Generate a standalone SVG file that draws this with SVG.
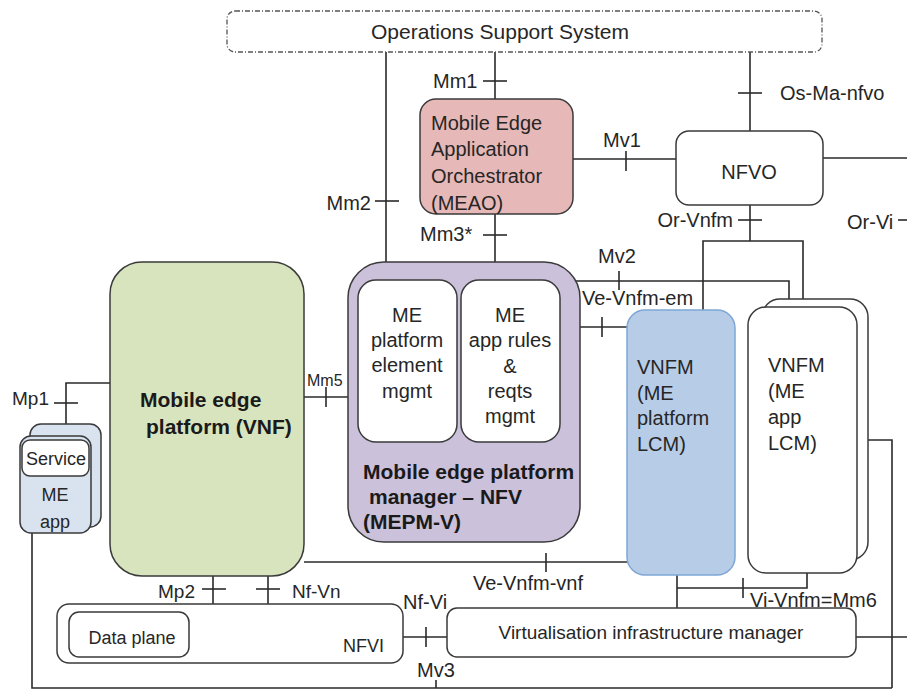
<svg xmlns="http://www.w3.org/2000/svg" width="907" height="690" viewBox="0 0 907 690">
  <style>
    text { font-family: "Liberation Sans", Arial, sans-serif; fill: #262626; font-size: 20px; }
    .lbl { font-size: 20px; }
    .small { font-size: 18px; }
    .bold { font-weight: bold; font-size: 21px; fill: #1a1a1a; }
    .mid { text-anchor: middle; }
    .end { text-anchor: end; }
    .box { stroke: #3a3a3a; stroke-width: 1.5; }
    .plain { fill: #ffffff; }
    .conn line, .conn polyline { stroke: #2a2a2a; stroke-width: 1.6; fill: none; }
  </style>

  <!-- interfaces and reference points -->
  <g id="connectors" class="conn">
    <!-- Mm2: OSS to MEPM -->
    <line x1="386" y1="52" x2="386" y2="266"/>
    <line x1="375" y1="201" x2="399" y2="201"/>
    <!-- Mm1: OSS to MEAO -->
    <line x1="495" y1="52" x2="495" y2="100"/>
    <line x1="483" y1="81" x2="507" y2="81"/>
    <!-- Mm3*: MEAO to MEPM -->
    <line x1="495" y1="213" x2="495" y2="266"/>
    <line x1="483" y1="235" x2="507" y2="235"/>
    <!-- Mv1: MEAO to NFVO -->
    <line x1="572" y1="159" x2="676" y2="159"/>
    <line x1="626" y1="151" x2="626" y2="171"/>
    <!-- Os-Ma-nfvo -->
    <line x1="750" y1="52" x2="750" y2="131"/>
    <line x1="738" y1="93" x2="762" y2="93"/>
    <!-- NFVO east -->
    <line x1="823" y1="158" x2="907" y2="158"/>
    <!-- Or-Vi stub -->
    <line x1="898" y1="220" x2="907" y2="220"/>
    <!-- Or-Vnfm: NFVO to both VNFMs -->
    <line x1="750" y1="205" x2="750" y2="241"/>
    <line x1="738" y1="220" x2="762" y2="220"/>
    <polyline points="703,311 703,241 803,241 803,307"/>
    <!-- Mv2: MEPM to VNFM (app) -->
    <polyline points="570,281 789,281 789,304"/>
    <line x1="619" y1="271" x2="619" y2="290"/>
    <!-- Ve-Vnfm-em -->
    <line x1="576" y1="327" x2="628" y2="327"/>
    <line x1="602" y1="317" x2="602" y2="337"/>
    <!-- Mm5 -->
    <line x1="304" y1="397" x2="350" y2="397"/>
    <line x1="326" y1="387" x2="326" y2="407"/>
    <!-- Ve-Vnfm-vnf -->
    <line x1="304" y1="562" x2="628" y2="562"/>
    <line x1="546" y1="553" x2="546" y2="572"/>
    <!-- Mp1 -->
    <polyline points="110,383 66,383 66,425"/>
    <line x1="54" y1="403" x2="78" y2="403"/>
    <!-- Mp2 -->
    <polyline points="189,638 213,638 213,576"/>
    <line x1="202" y1="589" x2="226" y2="589"/>
    <!-- Nf-Vn -->
    <line x1="268" y1="576" x2="268" y2="604"/>
    <line x1="256" y1="589" x2="280" y2="589"/>
    <!-- Nf-Vi -->
    <line x1="403" y1="637" x2="447" y2="637"/>
    <line x1="426" y1="627" x2="426" y2="647"/>
    <!-- Vi-Vnfm=Mm6 -->
    <line x1="677" y1="575" x2="677" y2="608"/>
    <polyline points="677,588 807,588 807,572"/>
    <line x1="743" y1="578" x2="743" y2="598"/>
    <!-- VNFM (app) east and VIM east -->
    <polyline points="868,440 892,440 892,688"/>
    <line x1="856" y1="637" x2="907" y2="637"/>
    <!-- bottom bus and Mv3 -->
    <polyline points="32,532 32,688 892,688"/>
    <line x1="436" y1="680" x2="436" y2="688"/>
  </g>

  <!-- reference point labels -->
  <g id="labels">
    <text x="433" y="88">Mm1</text>
    <text class="end" x="371" y="210">Mm2</text>
    <text x="420" y="241">Mm3*</text>
    <text x="603" y="147">Mv1</text>
    <text x="780" y="100">Os-Ma-nfvo</text>
    <text class="end" x="733" y="227">Or-Vnfm</text>
    <text x="847" y="229">Or-Vi</text>
    <text x="598" y="263">Mv2</text>
    <text x="582" y="305">Ve-Vnfm-em</text>
    <text x="307" y="386" style="font-size:16px">Mm5</text>
    <text x="12" y="405" style="font-size:19px">Mp1</text>
    <text x="473" y="590">Ve-Vnfm-vnf</text>
    <text x="158" y="598" style="font-size:19px">Mp2</text>
    <text x="292" y="598" style="font-size:19px">Nf-Vn</text>
    <text x="403" y="609">Nf-Vi</text>
    <text x="417" y="677">Mv3</text>
    <text x="750" y="607">Vi-Vnfm=Mm6</text>
  </g>

  <g id="oss">
    <rect x="227" y="11" width="595" height="41" rx="8" fill="#ffffff" stroke="#555" stroke-width="1.3" stroke-dasharray="5 2 1 2"/>
    <text class="mid" x="500" y="39" style="font-size:21px">Operations Support System</text>
  </g>

  <g id="meao">
    <rect class="box" x="420" y="99" width="153" height="115" rx="16" fill="#e6b8b7"/>
    <text x="431" y="130">Mobile Edge</text>
    <text x="431" y="156">Application</text>
    <text x="431" y="183">Orchestrator</text>
    <text x="431" y="210">(MEAO)</text>
  </g>

  <g id="nfvo">
    <rect class="box plain" x="676" y="131" width="147" height="74" rx="13"/>
    <text class="mid" x="749" y="179">NFVO</text>
  </g>

  <g id="me-app">
    <rect class="box" x="30" y="424" width="71" height="103" rx="11" fill="#d9e3f0" stroke-width="1.3"/>
    <rect class="box" x="20" y="436" width="71" height="97" rx="11" fill="#d9e3f0" stroke-width="1.3"/>
    <rect class="box plain" x="22" y="440" width="67" height="36" rx="8" stroke-width="1.3"/>
    <text class="mid" x="56" y="465" style="font-size:18px">Service</text>
    <text class="mid" x="55" y="501" style="font-size:18px">ME</text>
    <text class="mid" x="55" y="528" style="font-size:18px">app</text>
  </g>

  <g id="mep">
    <rect class="box" x="110" y="262" width="194" height="314" rx="32" fill="#d7e4bd"/>
    <text class="bold" x="140" y="407">Mobile edge</text>
    <text class="bold" x="146" y="434">platform (VNF)</text>
  </g>

  <g id="mepm-v">
    <rect class="box" x="348" y="262" width="232" height="280" rx="36" fill="#cbc1da"/>
    <rect class="box plain" x="358" y="280" width="99" height="162" rx="18"/>
    <rect class="box plain" x="461" y="280" width="99" height="162" rx="18"/>
    <text class="mid" x="407" y="322">ME</text>
    <text class="mid" x="407" y="347">platform</text>
    <text class="mid" x="407" y="372">element</text>
    <text class="mid" x="407" y="398">mgmt</text>
    <text class="mid" x="510" y="322">ME</text>
    <text class="mid" x="510" y="347">app rules</text>
    <text class="mid" x="510" y="373">&amp;</text>
    <text class="mid" x="510" y="398">reqts</text>
    <text class="mid" x="510" y="423">mgmt</text>
    <text class="bold" x="363" y="479">Mobile edge platform</text>
    <text class="bold" x="369" y="504">manager – NFV</text>
    <text class="bold" x="363" y="529">(MEPM-V)</text>
  </g>

  <g id="vnfm-platform">
    <rect x="627" y="310" width="108" height="265" rx="18" fill="#b7cce6" stroke="#7ea6d6" stroke-width="1.5"/>
    <text x="637" y="374">VNFM</text>
    <text x="637" y="400">(ME</text>
    <text x="637" y="425">platform</text>
    <text x="637" y="451">LCM)</text>
  </g>

  <g id="vnfm-app">
    <rect class="box plain" x="762" y="299" width="106" height="261" rx="18" stroke-width="1.3"/>
    <rect class="box plain" x="748" y="307" width="109" height="266" rx="18" stroke-width="1.3"/>
    <text x="768" y="372">VNFM</text>
    <text x="768" y="398">(ME</text>
    <text x="768" y="424">app</text>
    <text x="768" y="450">LCM)</text>
  </g>

  <g id="nfvi">
    <rect class="box plain" x="57" y="604" width="346" height="59" rx="12" stroke-width="1.3"/>
    <text class="small" x="343" y="652">NFVI</text>
  </g>

  <g id="data-plane">
    <rect class="box plain" x="69" y="612" width="120" height="45" rx="10" stroke-width="1.3"/>
    <text class="mid small" x="132" y="644">Data plane</text>
  </g>

  <g id="vim">
    <rect class="box plain" x="447" y="608" width="409" height="49" rx="10" stroke-width="1.3"/>
    <text class="mid" x="651" y="639" style="font-size:19px">Virtualisation infrastructure manager</text>
  </g>
</svg>
